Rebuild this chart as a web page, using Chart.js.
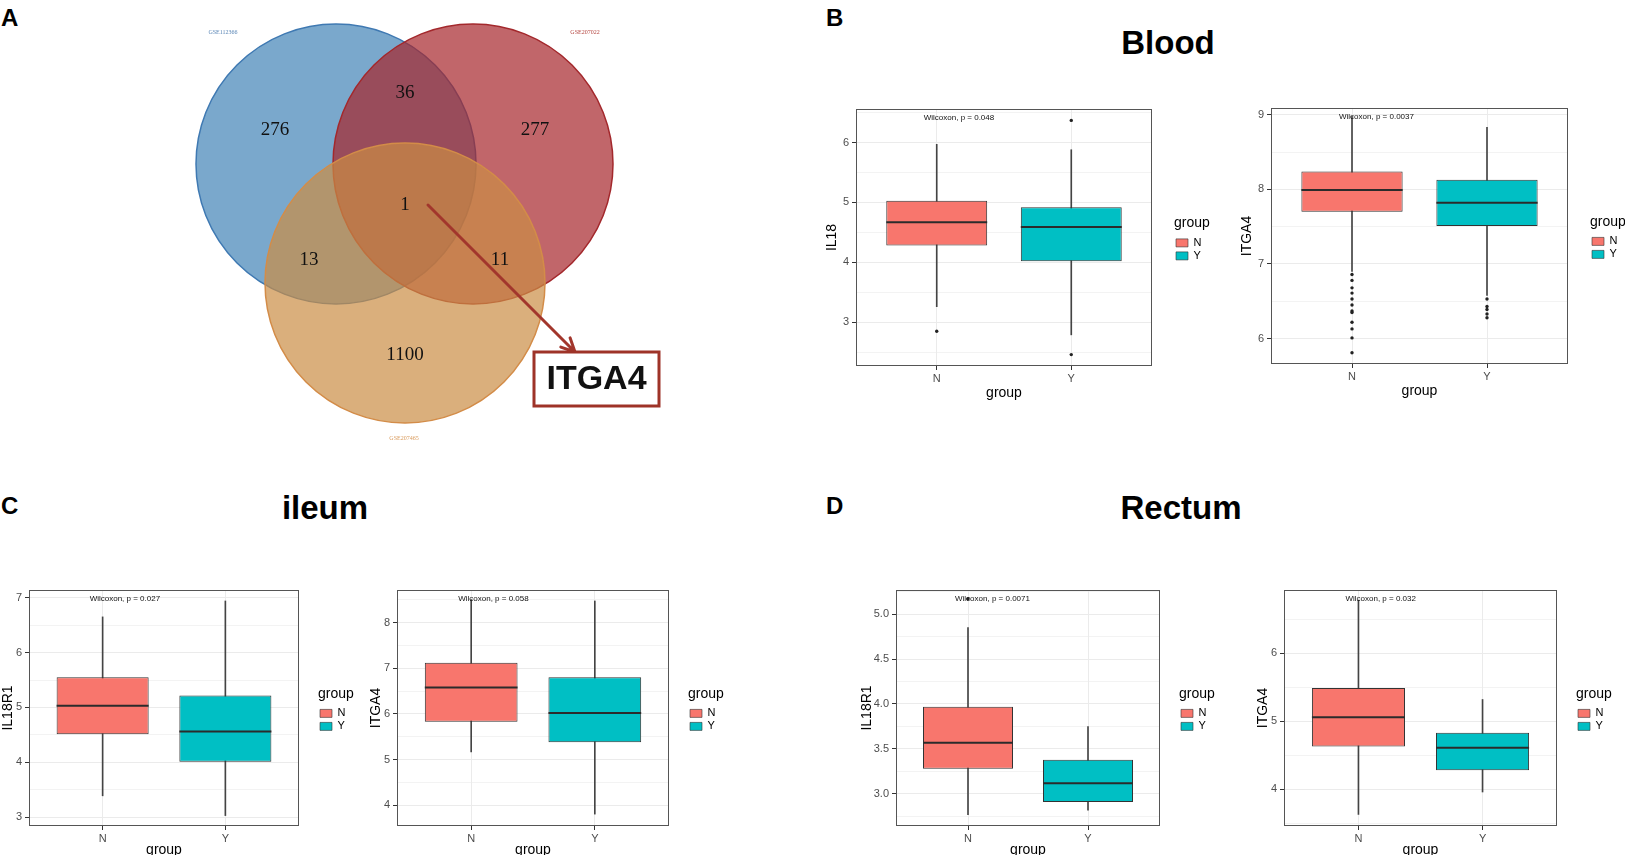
<!DOCTYPE html>
<html>
<head>
<meta charset="utf-8">
<script src="https://cdn.jsdelivr.net/npm/chart.js@4.4.1/dist/chart.umd.min.js"></script>
<style>
html, body { margin: 0; padding: 0; background: #fff; width: 1625px; height: 855px; overflow: hidden; position: relative;
  font-family: "Liberation Sans", Arial, Helvetica, sans-serif; }
canvas { position: absolute; }
.lab { position: absolute; font-weight: bold; line-height: 1; white-space: nowrap; color: #000; }
.ttl { position: absolute; font-weight: bold; line-height: 1; white-space: nowrap; font-size: 33px; transform: translateX(-50%); }
</style>
</head>
<body>
<div class="lab" style="left:1px;top:6px;font-size:24px">A</div>
<div class="lab" style="left:826px;top:6px;font-size:24px">B</div>
<div class="lab" style="left:1px;top:494px;font-size:24px">C</div>
<div class="lab" style="left:826px;top:494px;font-size:24px">D</div>
<div class="ttl" style="left:1168px;top:26px">Blood</div>
<div class="ttl" style="left:325px;top:491px">ileum</div>
<div class="ttl" style="left:1181px;top:491px">Rectum</div>

<script>
// Figure: Venn of DEGs + Wilcoxon boxplots (Blood / ileum / Rectum)

Chart.defaults.font.family = '"Liberation Sans", Arial, Helvetica, sans-serif';
Chart.defaults.animation = false;
Chart.defaults.events = [];

// ---- data ----
const vennSets = ['GSE112366', 'GSE207022', 'GSE207465'];
// regions: A only, A&B, B only, A&C, A&B&C, B&C, C only
const vennCounts = [276, 36, 277, 13, 1, 11, 1100];
const vennHit = 'ITGA4';

const groups = ['N', 'Y'];
// per group: [lower whisker, Q1, median, Q3, upper whisker]
const bloodIL18 = [[3.26, 4.28, 4.67, 5.03, 5.97], [2.79, 4.02, 4.59, 4.92, 5.88]];
const bloodIL18Out = [[2.85], [6.37, 2.46]];
const bloodITGA4 = [[6.90, 7.70, 7.99, 8.24, 8.98], [6.58, 7.51, 7.82, 8.13, 8.83]];
const bloodITGA4Out = [[6.86, 6.78, 6.68, 6.61, 6.53, 6.45, 6.37, 6.35, 6.22, 6.13, 6.01, 5.81],
                       [6.53, 6.43, 6.39, 6.33, 6.28]];
const ileumIL18R1 = [[3.39, 4.51, 5.03, 5.55, 6.65], [3.03, 4.01, 4.56, 5.22, 6.94]];
const ileumIL18R1Out = [[], []];
const ileumITGA4 = [[5.17, 5.83, 6.58, 7.12, 8.50], [3.81, 5.38, 6.02, 6.80, 8.47]];
const ileumITGA4Out = [[], []];
const rectumIL18R1 = [[2.77, 3.28, 3.57, 3.97, 4.85], [2.82, 2.91, 3.12, 3.38, 3.75]];
const rectumIL18R1Out = [[5.17], []];
const rectumITGA4 = [[3.63, 4.63, 5.06, 5.49, 6.78], [3.96, 4.28, 4.61, 4.83, 5.32]];
const rectumITGA4Out = [[], []];

const geneNames = ['IL18', 'ITGA4', 'IL18R1', 'ITGA4', 'IL18R1', 'ITGA4'];
const pValues = ['0.048', '0.0037', '0.027', '0.058', '0.0071', '0.032'];
const yLimits = [[2.27, 6.56], [5.66, 9.09], [2.84, 7.14], [3.55, 8.71], [2.644, 5.267], [3.46, 6.93]];
const yBreakSteps = [1, 1, 1, 1, 0.5, 1];

// ---- styles / layout ----
const groupFill = ['#F8766D', '#00BFC4'];
const plotLayout = [
  { L: 856, T: 109, R: 1152, B: 366, yGap: 24, legGap: 22, xTitlePad: 4.6 },
  { L: 1271, T: 108, R: 1568, B: 364, yGap: 24, legGap: 22, xTitlePad: 4.6 },
  { L: 29, T: 590, R: 299, B: 826, yGap: 21, legGap: 19, xTitlePad: 7.6 },
  { L: 397, T: 590, R: 669, B: 826, yGap: 21, legGap: 19, xTitlePad: 7.6 },
  { L: 896, T: 590, R: 1160, B: 826, yGap: 29, legGap: 19, xTitlePad: 7.6 },
  { L: 1284, T: 590, R: 1557, B: 826, yGap: 21, legGap: 19, xTitlePad: 7.6 }
];
const vennLayout = {
  circles: [{ x: 336, y: 164, r: 140 }, { x: 473, y: 164, r: 140 }, { x: 405, y: 283, r: 140 }],
  fills: ['rgba(65,131,182,0.7)', 'rgba(166,37,43,0.7)', 'rgba(202,141,69,0.7)'],
  strokes: ['#3F79B2', '#A3282C', '#D38C48'],
  countPos: [[275, 130], [405, 93], [535, 130], [309, 260], [405, 205], [500, 260], [405, 355]],
  setLabelPos: [[223, 32], [585, 32], [404, 438]],
  setLabelColor: ['#5A86B6', '#B4443F', '#D99A5B'],
  arrow: [[428, 205], [575, 352]],
  hitBox: [534, 352, 125, 54]
};

const boxData = [bloodIL18, bloodITGA4, ileumIL18R1, ileumITGA4, rectumIL18R1, rectumITGA4];
const outData = [bloodIL18Out, bloodITGA4Out, ileumIL18R1Out, ileumITGA4Out, rectumIL18R1Out, rectumITGA4Out];

// ---- Venn ----
const vennPlugin = {
  id: 'vennText',
  afterDatasetsDraw(chart) {
    const { ctx, scales: { x, y } } = chart;
    const px = v => x.getPixelForValue(v), py = v => y.getPixelForValue(v);
    ctx.save();
    ctx.textAlign = 'center';
    ctx.textBaseline = 'middle';
    ctx.fillStyle = '#111';
    ctx.font = '19px "Liberation Serif", "Times New Roman", serif';
    vennCounts.forEach((c, i) => {
      const p = vennLayout.countPos[i];
      ctx.fillText(String(c), px(p[0]), py(p[1]));
    });
    ctx.font = '6px "Liberation Serif", "Times New Roman", serif';
    vennSets.forEach((s, i) => {
      const p = vennLayout.setLabelPos[i];
      ctx.fillStyle = vennLayout.setLabelColor[i];
      ctx.fillText(s, px(p[0]), py(p[1]));
    });

    // arrow to the shared gene
    const [a, b] = vennLayout.arrow;
    const x0 = px(a[0]), y0 = py(a[1]), x1 = px(b[0]), y1 = py(b[1]);
    const ang = Math.atan2(y1 - y0, x1 - x0);
    ctx.strokeStyle = '#A2362C';
    ctx.lineWidth = 3;
    ctx.lineCap = 'round';
    ctx.beginPath();
    ctx.moveTo(x0, y0);
    ctx.lineTo(x1, y1);
    ctx.moveTo(x1 - 15 * Math.cos(ang - 0.45), y1 - 15 * Math.sin(ang - 0.45));
    ctx.lineTo(x1, y1);
    ctx.lineTo(x1 - 15 * Math.cos(ang + 0.45), y1 - 15 * Math.sin(ang + 0.45));
    ctx.stroke();

    const hb = vennLayout.hitBox;
    const bx = px(hb[0]), by = py(hb[1]), bw = px(hb[0] + hb[2]) - bx, bh = py(hb[1] + hb[3]) - by;
    ctx.fillStyle = '#fff';
    ctx.fillRect(bx, by, bw, bh);
    ctx.strokeStyle = '#9E3328';
    ctx.lineWidth = 3;
    ctx.strokeRect(bx, by, bw, bh);
    ctx.fillStyle = '#111';
    ctx.font = 'bold 34px "Liberation Sans", Arial, sans-serif';
    ctx.fillText(vennHit, bx + bw / 2, by + bh / 2 + 1);
    ctx.restore();
  }
};

(function drawVenn() {
  const cv = document.createElement('canvas');
  cv.width = 700; cv.height = 470;
  cv.style.left = '0px'; cv.style.top = '0px';
  document.body.appendChild(cv);
  const datasets = vennLayout.circles.map((c, i) => ({
    label: vennSets[i],
    data: [{ x: c.x, y: c.y }],
    pointRadius: ctx => ctx.chart.scales.x.getPixelForValue(c.r) - ctx.chart.scales.x.getPixelForValue(0),
    pointBackgroundColor: vennLayout.fills[i],
    pointBorderColor: vennLayout.strokes[i],
    pointBorderWidth: 1.5,
    order: 2 - i
  }));
  new Chart(cv, {
    type: 'scatter',
    data: { datasets },
    options: {
      responsive: false,
      layout: { padding: 0, autoPadding: false },
      scales: {
        x: { type: 'linear', min: 0, max: 700, display: false },
        y: { type: 'linear', min: 0, max: 470, reverse: true, display: false }
      },
      plugins: { legend: { display: false }, tooltip: { enabled: false } }
    },
    plugins: [vennPlugin]
  });
})();

// ---- boxplots ----
function yTicks(lim, step) {
  const half = step / 2, out = [];
  for (let k = Math.ceil(lim[0] / half - 1e-9); k * half <= lim[1] + 1e-9; k++) {
    out.push({ value: +(k * half).toFixed(6), minor: k % 2 !== 0 });
  }
  return out;
}

const panelPlugin = {
  id: 'panel',
  afterDatasetsDraw(chart, args, opts) {
    const { ctx, chartArea: a, scales } = chart;
    ctx.save();
    ctx.strokeStyle = '#555';
    ctx.lineWidth = 1;
    ctx.strokeRect(a.left + 0.5, a.top + 0.5, a.width - 1, a.height - 1);
    ctx.fillStyle = '#111';
    ctx.font = '8px "Liberation Sans", Arial, sans-serif';
    ctx.textAlign = 'left';
    ctx.textBaseline = 'middle';
    ctx.fillText(opts.label, scales.x.getPixelForValue(1) - 13, a.top + 9);
    ctx.restore();
  }
};

function boxChart(i) {
  const lay = plotLayout[i];
  const box = boxData[i], outl = outData[i];
  const step = yBreakSteps[i];
  const yW = lay.yGap + 8, padTop = 10, xH = 40, legW = 37, padR = 40;
  const cv = document.createElement('canvas');
  cv.width = yW + (lay.R - lay.L) + lay.legGap + legW + padR;
  cv.height = padTop + (lay.B - lay.T) + xH;
  cv.style.left = (lay.L - yW) + 'px';
  cv.style.top = (lay.T - padTop) + 'px';
  document.body.appendChild(cv);

  const ticksY = yTicks(yLimits[i], step);
  const fmt = v => step < 1 ? v.toFixed(1) : String(v);

  const datasets = [];
  groups.forEach((g, k) => {
    datasets.push({
      type: 'line', label: 'median ' + g, xAxisID: 'x', yAxisID: 'y',
      data: [{ x: k + 1 - 0.375, y: box[k][2] }, { x: k + 1 + 0.375, y: box[k][2] }],
      borderColor: '#2b2b2b', borderWidth: 2, pointRadius: 0, order: 0
    });
  });
  datasets.push({
    type: 'line', label: 'outliers', xAxisID: 'x', yAxisID: 'y', showLine: false,
    data: outl.flatMap((arr, k) => arr.map(v => ({ x: k + 1, y: v }))),
    pointRadius: 1.7, pointBackgroundColor: '#222', pointBorderWidth: 0, order: 1
  });
  datasets.push({
    type: 'bar', label: 'box', xAxisID: 'x', yAxisID: 'y',
    data: groups.map((g, k) => ({ x: k + 1, y: [box[k][1], box[k][3]] })),
    backgroundColor: groupFill, borderColor: '#333', borderWidth: 1, borderSkipped: false,
    barPercentage: 0.75, categoryPercentage: 1, grouped: false, order: 2
  });
  datasets.push({
    type: 'bar', label: 'whisker', xAxisID: 'x', yAxisID: 'y',
    data: groups.map((g, k) => ({ x: k + 1, y: [box[k][0], box[k][4]] })),
    backgroundColor: '#444', barThickness: 1, grouped: false, order: 3
  });

  new Chart(cv, {
    type: 'bar',
    data: { datasets },
    options: {
      responsive: false,
      layout: { padding: { top: padTop, right: padR, left: 0, bottom: 0 }, autoPadding: false },
      scales: {
        x: {
          type: 'linear', min: 0.4, max: 2.6, offset: false, position: 'bottom',
          afterFit(s) { s.height = xH; },
          afterBuildTicks(s) { s.ticks = groups.map((g, k) => ({ value: k + 1 })); },
          ticks: { callback: v => groups[Math.round(v) - 1], color: '#4D4D4D', font: { size: 11 },
                   padding: 2, autoSkip: false, maxRotation: 0 },
          grid: { color: '#EBEBEB', lineWidth: 1, offset: false, tickColor: '#333', tickLength: 4 },
          border: { display: false },
          title: { display: true, text: 'group', color: '#000', font: { size: 14 },
                   padding: { top: 0, bottom: lay.xTitlePad } }
        },
        y: {
          type: 'linear', min: yLimits[i][0], max: yLimits[i][1], position: 'left',
          afterFit(s) { s.width = yW; },
          afterBuildTicks(s) { s.ticks = ticksY.map(t => ({ value: t.value, minor: t.minor })); },
          ticks: { callback: (v, idx, arr) => arr[idx].minor ? '' : fmt(v), color: '#4D4D4D',
                   font: { size: 11 }, padding: 3, autoSkip: false },
          grid: {
            color: '#EBEBEB',
            lineWidth: c => (c.tick && c.tick.minor) ? 0.6 : 1,
            tickColor: c => (c.tick && c.tick.minor) ? 'rgba(0,0,0,0)' : '#333',
            tickLength: 4
          },
          border: { display: false },
          title: { display: true, text: geneNames[i], color: '#000', font: { size: 14 }, padding: { top: 0, bottom: 0 } }
        },
        gap: {
          type: 'linear', position: 'right', display: true,
          afterFit(s) { s.width = lay.legGap; },
          grid: { display: false }, ticks: { display: false }, border: { display: false }
        }
      },
      plugins: {
        tooltip: { enabled: false },
        panel: { label: 'Wilcoxon, p = ' + pValues[i] },
        legend: {
          position: 'right', align: 'center', fullSize: false, maxWidth: legW,
          title: { display: true, text: 'group', position: 'start', color: '#000', font: { size: 14 },
                   padding: { top: 5, bottom: 2 } },
          labels: {
            boxWidth: 12, boxHeight: 8, padding: 2, color: '#000', font: { size: 11 },
            generateLabels: () => groups.map((g, k) => ({
              text: g, fillStyle: groupFill[k], strokeStyle: '#333', lineWidth: 0.6,
              hidden: false, fontColor: '#000', datasetIndex: 2
            }))
          }
        }
      }
    },
    plugins: [panelPlugin]
  });
}

for (let i = 0; i < plotLayout.length; i++) boxChart(i);
</script>
</body>
</html>
